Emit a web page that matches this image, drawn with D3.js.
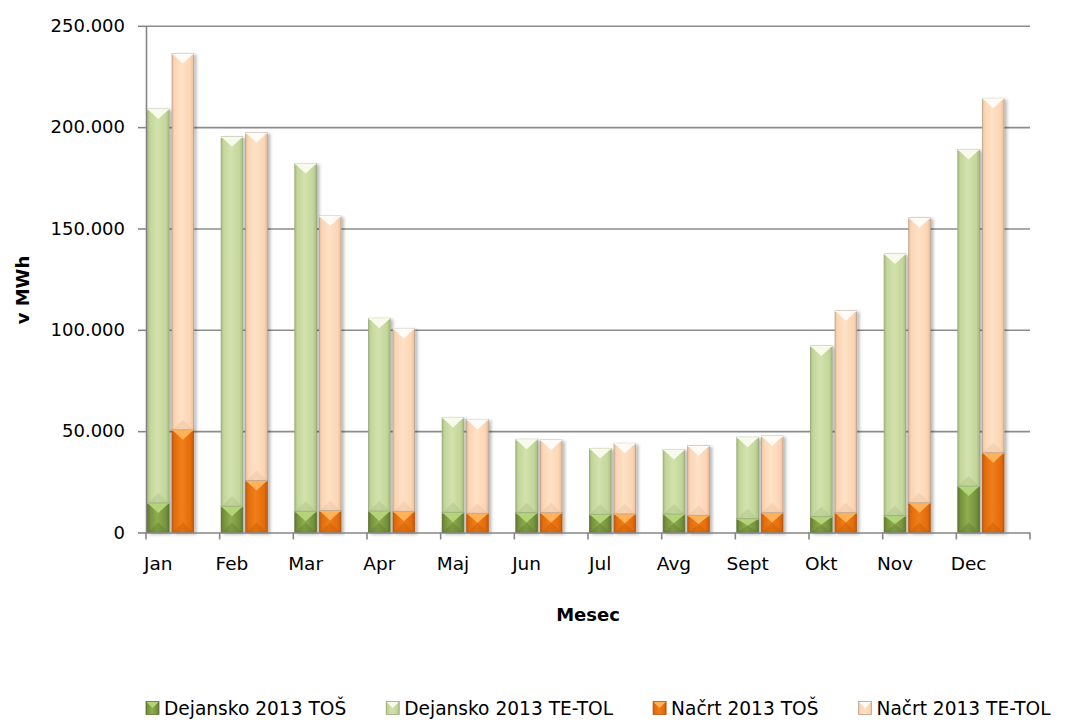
<!DOCTYPE html>
<html>
<head>
<meta charset="utf-8">
<script src="https://cdn.jsdelivr.net/npm/d3@7"></script>
<style>
  html, body { margin: 0; padding: 0; background: #ffffff; }
  svg { display: block; font-family: "DejaVu Sans", Verdana, sans-serif; }
</style>
</head>
<body>
<svg id="chart" width="1065" height="722"></svg>
<script>
// ---- data ----
const months = ["Jan","Feb","Mar","Apr","Maj","Jun","Jul","Avg","Sept","Okt","Nov","Dec"];
const dejanskoTOS   = [14600, 13000, 10500, 10600, 10000,  9800,  9000,  9100,  6800,  7800,  8300, 22900];
const dejanskoTETOL = [194300,182200,171600, 95100, 46800, 36200, 32500, 31900, 40200, 84200,129100,166100];
const nacrtTOS      = [50700, 25700, 10800, 10500,  9500,  9800,  9200,  8500,  9800,  9800, 14700, 39400];
const nacrtTETOL    = [185600,171500,145300, 90200, 46300, 35800, 34800, 34300, 37800, 99600,140600,174800];
const yTicks = [0, 50000, 100000, 150000, 200000, 250000];
const groups = ["Dejansko", "Načrt"];
const legendLabels = ["Dejansko 2013 TOŠ", "Dejansko 2013 TE-TOL", "Načrt 2013 TOŠ", "Načrt 2013 TE-TOL"];
const yAxisTitle = "v MWh";
const xAxisTitle = "Mesec";

// ---- styles ----
const styles = {
  "Dejansko 2013 TOŠ":    { base: "#76923c", light: "#8fae4e", edge: "#5e7730", top: "#b4d479", stroke: "#5f7532" },
  "Dejansko 2013 TE-TOL": { base: "#c3d69b", light: "#d2e2ad", edge: "#a9bd80", top: "#f8fbec", stroke: "#98a97a" },
  "Načrt 2013 TOŠ":       { base: "#e46c0a", light: "#f07e1a", edge: "#c35a06", top: "#ffb25a", stroke: "#b4580c" },
  "Načrt 2013 TE-TOL":    { base: "#fcd5b4", light: "#fee1c6", edge: "#e8bf9c", top: "#fffbf6", stroke: "#b9a18d" }
};

const svg = d3.select("#chart");
const L = 146, R = 1030, T = 25.8, B = 532.5;

const x = d3.scaleBand().domain(months).range([L, R]).paddingInner(0).paddingOuter(0);
const slot = d3.scaleBand().domain(["Dejansko", "Načrt", "gap"]).range([0, x.bandwidth()]).paddingInner(0.12).paddingOuter(0.06);
const y = d3.scaleLinear().domain([0, 250000]).range([B, T]);

const locale = d3.formatLocale({ decimal: ",", thousands: ".", grouping: [3], currency: ["", "€"] });
const fmt = locale.format(",");

// defs: gradients + shadow
const defs = svg.append("defs");
const flt = defs.append("filter").attr("id", "shadow").attr("x", "-30%").attr("y", "-10%").attr("width", "160%").attr("height", "120%");
flt.append("feDropShadow").attr("dx", 2.5).attr("dy", 1.5).attr("stdDeviation", 1.8).attr("flood-color", "#000").attr("flood-opacity", 0.28);
Object.keys(styles).forEach((k, i) => {
  const s = styles[k];
  const g = defs.append("linearGradient").attr("id", "grad" + i).attr("x1", "0").attr("x2", "1").attr("y1", "0").attr("y2", "0");
  g.append("stop").attr("offset", "0%").attr("stop-color", s.edge);
  g.append("stop").attr("offset", "12%").attr("stop-color", s.base);
  g.append("stop").attr("offset", "45%").attr("stop-color", s.light);
  g.append("stop").attr("offset", "85%").attr("stop-color", s.base);
  g.append("stop").attr("offset", "100%").attr("stop-color", s.edge);
});
const gradId = k => "url(#grad" + Object.keys(styles).indexOf(k) + ")";

// gridlines
svg.append("g").attr("transform", `translate(${L},0)`)
  .call(d3.axisLeft(y).tickValues(yTicks.filter(v => v > 0)).tickSize(-(R - L)).tickFormat(""))
  .call(g => g.select(".domain").remove())
  .call(g => g.selectAll("line").attr("stroke", "#8c8c8c").attr("stroke-width", 1.6));

// y axis
svg.append("g").attr("transform", `translate(${L},0)`)
  .call(d3.axisLeft(y).tickValues(yTicks).tickSize(8).tickPadding(13).tickSizeOuter(0).tickFormat(fmt))
  .call(g => g.select(".domain").attr("stroke", "#868686").attr("stroke-width", 1.6))
  .call(g => g.selectAll("line").attr("stroke", "#868686").attr("stroke-width", 1.6))
  .call(g => g.selectAll("text").attr("font-size", 18).attr("fill", "#000").attr("font-family", "DejaVu Sans"));

// data rows for stacking
const rows = months.map((m, i) => ({
  month: m,
  Dejansko: { "Dejansko 2013 TOŠ": dejanskoTOS[i], "Dejansko 2013 TE-TOL": dejanskoTETOL[i] },
  "Načrt": { "Načrt 2013 TOŠ": nacrtTOS[i], "Načrt 2013 TE-TOL": nacrtTETOL[i] }
}));

const barsG = svg.append("g");
groups.forEach(grp => {
  const keys = grp === "Dejansko" ? ["Dejansko 2013 TOŠ", "Dejansko 2013 TE-TOL"] : ["Načrt 2013 TOŠ", "Načrt 2013 TE-TOL"];
  const stacked = d3.stack().keys(keys)(rows.map(r => Object.assign({ month: r.month }, r[grp])));
  const w = slot.bandwidth();
  const colG = barsG.selectAll(null).data(rows).enter().append("g")
    .attr("filter", "url(#shadow)");
  stacked.forEach(layer => {
    const k = layer.key;
    const s = styles[k];
    colG.each(function(d, i) {
      const seg = layer[i];
      const x0 = x(d.month) + slot(grp);
      const yTop = y(seg[1]), yBot = y(seg[0]);
      const g = d3.select(this);
      g.append("rect").attr("x", x0).attr("y", yTop).attr("width", w).attr("height", yBot - yTop)
        .attr("fill", gradId(k)).attr("stroke", s.stroke).attr("stroke-width", 0.8);
      const th = Math.min(10, (yBot - yTop) / 2);
      // bottom faint bevel
      g.append("path")
        .attr("d", `M${x0 + 0.5},${yBot} L${x0 + w / 2},${yBot - th} L${x0 + w - 0.5},${yBot} Z`)
        .attr("fill", s.edge).attr("opacity", 0.4);
      // top chevron highlight
      g.append("path")
        .attr("d", `M${x0 + 0.5},${yTop + 0.5} L${x0 + w / 2},${yTop + th} L${x0 + w - 0.5},${yTop + 0.5} Z`)
        .attr("fill", s.top);
      g.append("line").attr("x1", x0).attr("x2", x0 + w).attr("y1", yTop + 0.5).attr("y2", yTop + 0.5)
        .attr("stroke", s.top).attr("stroke-width", 1.2);
    });
  });
});

// x axis
const xAxisG = svg.append("g").attr("transform", `translate(0,${B})`)
  .call(d3.axisBottom(x).tickSize(0).tickPadding(0).tickSizeOuter(0));
xAxisG.select(".domain").remove();
xAxisG.append("line").attr("x1", L).attr("x2", R).attr("y1", 0.5).attr("y2", 0.5).attr("stroke", "#868686").attr("stroke-width", 1.6);
xAxisG.selectAll(".tick")
  .attr("transform", d => `translate(${x(d) + slot("Dejansko") + slot.bandwidth() / 2},0)`);
xAxisG.selectAll(".tick text").attr("font-size", 18.5).attr("fill", "#000").attr("font-family", "DejaVu Sans")
  .attr("y", 37).attr("dy", 0);
const bounds = months.map(m => x(m)).concat([R]);
xAxisG.selectAll(".bt").data(bounds).enter().append("line")
  .attr("x1", d => d).attr("x2", d => d).attr("y1", 0).attr("y2", 7)
  .attr("stroke", "#868686").attr("stroke-width", 1.6);

// axis titles
svg.append("text").attr("x", (L + R) / 2).attr("y", 621).attr("text-anchor", "middle")
  .attr("font-size", 18).attr("font-weight", "bold").text(xAxisTitle);
svg.append("text").attr("transform", "translate(29,290) rotate(-90)").attr("text-anchor", "middle")
  .attr("font-size", 18).attr("font-weight", "bold").text(yAxisTitle);

// legend
const leg = svg.append("g");
let lx = 146;
const ly = 708;
legendLabels.forEach(lbl => {
  const s = styles[lbl];
  const sz = 13;
  const g = leg.append("g");
  g.append("rect").attr("x", lx).attr("y", ly - sz / 2).attr("width", sz).attr("height", sz)
    .attr("fill", gradId(lbl)).attr("stroke", s.stroke).attr("stroke-width", 0.8);
  g.append("path").attr("d", `M${lx + 0.5},${ly - sz / 2 + 0.5} L${lx + sz / 2},${ly} L${lx + sz - 0.5},${ly - sz / 2 + 0.5} Z`)
    .attr("fill", s.top);
  const t = g.append("text").attr("x", lx + sz + 5).attr("y", ly).attr("dy", "0.36em")
    .attr("font-size", 18.6).attr("fill", "#000").text(lbl);
  lx = lx + sz + 5 + t.node().getComputedTextLength() + 40;
});
</script>
</body>
</html>
